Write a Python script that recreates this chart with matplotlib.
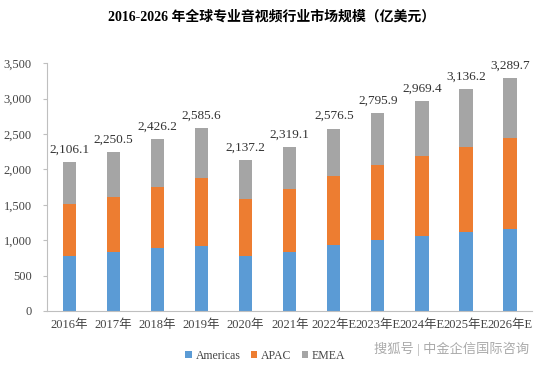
import matplotlib
matplotlib.use("Agg")
import matplotlib.pyplot as plt
import numpy as np

plt.rcParams['font.family'] = ['Liberation Serif', 'Noto Sans CJK SC']

# Data (100M USD)
years = ['2016年', '2017年', '2018年', '2019年', '2020年', '2021年',
         '2022年E', '2023年E', '2024年E', '2025年E', '2026年E']
totals = [2106.1, 2250.5, 2426.2, 2585.6, 2137.2, 2319.1,
          2576.5, 2795.9, 2969.4, 3136.2, 3289.7]
americas = [780, 828, 885, 922, 780, 837, 931, 1002, 1058, 1119, 1162]
apac = [725, 785, 869, 950, 796, 880, 974, 1058, 1129, 1199, 1284]
emea = [t - a - p for t, a, p in zip(totals, americas, apac)]

fig = plt.figure(figsize=(5.43, 3.65), dpi=100)
ax = fig.add_axes([0.087, 0.148, 0.893, 0.679])

x = np.arange(len(years))
w = 0.3
ax.bar(x, americas, w, color='#5B9BD5', label='Americas')
ax.bar(x, apac, w, bottom=americas, color='#ED7D31', label='APAC')
ax.bar(x, emea, w, bottom=np.add(americas, apac), color='#A5A5A5', label='EMEA')

for xi, t in zip(x, totals):
    ax.text(xi, t + 90, f'{t:,.1f}', ha='center', va='bottom', fontsize=9.5, color='#333333')

ax.set_xlim(-0.5, len(years) - 0.5)
ax.set_ylim(0, 3500)
ax.set_yticks(np.arange(0, 3501, 500))
ax.set_yticklabels([f'{v:,}' for v in range(0, 3501, 500)])
ax.set_xticks(x)
ax.set_xticklabels(years)
ax.tick_params(axis='x', length=0, labelsize=9, colors='#444444', pad=6)
ax.tick_params(axis='y', length=3, labelsize=9, colors='#444444', pad=8, color='#BFBFBF')

for s in ['top', 'right']:
    ax.spines[s].set_visible(False)
ax.spines['left'].set_color('#BFBFBF')
ax.spines['bottom'].set_color('#BFBFBF')

fig.text(0.5, 0.955, '2016-2026 年全球专业音视频行业市场规模（亿美元）',
         ha='center', va='center', fontsize=10, fontweight='bold')

ax.legend(loc='upper center', bbox_to_anchor=(0.45, -0.115), ncol=3, frameon=False,
          fontsize=8.5, handlelength=0.55, handleheight=0.55, handletextpad=0.3,
          columnspacing=0.9, labelcolor='#444444')

fig.text(0.975, 0.045, '搜狐号 | 中金企信国际咨询', ha='right', va='center',
         fontsize=9.5, color='#AAAAAA')

fig.savefig('out.png', dpi=100)
